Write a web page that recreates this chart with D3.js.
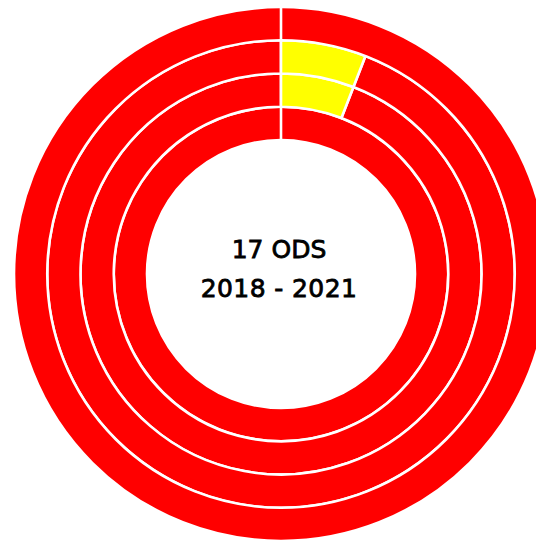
<!DOCTYPE html>
<html>
<head>
<meta charset="utf-8">
<script src="https://cdn.jsdelivr.net/npm/d3@7"></script>
<style>
  body { margin: 0; background: #fff; }
  svg { display: block; }
</style>
</head>
<body>
<svg width="536" height="542"></svg>
<script>
// one ring per year, inner ring = first year
const years = ["2018", "2019", "2020", "2021"];
// number of ODS in each status, per year
const statuses = ["amarillo", "rojo"];
const yellowCount = [0, 1, 1, 0];
const redCount = [17, 16, 16, 17];
const statusColors = ["#ffff00", "#ff0000"];

const titleLines = ["17 ODS", "2018 - 2021"];

var svg = d3.select("svg"),
    width = +svg.attr("width"),
    height = +svg.attr("height");

var cx = 281, cy = 274;
var innerR = 134, outerR = 267;

// rings
var ringScale = d3.scaleBand()
    .domain(years)
    .range([innerR, outerR])
    .padding(0);

var color = d3.scaleOrdinal()
    .domain(statuses)
    .range(statusColors);

var pie = d3.pie()
    .sort(null)
    .value(function(d){ return d.value; });

var g = svg.append("g")
    .attr("transform", "translate(" + cx + "," + cy + ")");

years.forEach(function(year, i){
    var slices = [
        {status: statuses[0], value: yellowCount[i]},
        {status: statuses[1], value: redCount[i]}
    ];
    var arc = d3.arc()
        .innerRadius(ringScale(year))
        .outerRadius(ringScale(year) + ringScale.bandwidth());

    // draw red first so the zero-width slice line stays on top
    g.append("g")
      .selectAll("path")
      .data(pie(slices).reverse())
      .enter()
      .append("path")
        .attr("d", arc)
        .style("fill", function(d){ return color(d.data.status); })
        .style("stroke", "#fff")
        .style("stroke-width", 2.6)
        .style("stroke-linejoin", "miter");
});

// centre title
g.selectAll("text.title")
    .data(titleLines)
    .enter()
    .append("text")
      .attr("class", "title")
      .attr("x", -2)
      .attr("y", function(d, i){ return i == 0 ? -16 : 23; })
      .attr("text-anchor", "middle")
      .style("font-family", "DejaVu Sans")
      .style("font-size", "25px")
      .style("letter-spacing", function(d, i){ return i == 0 ? "0px" : "0.4px"; })
      .style("fill", "#000")
      .style("stroke", "#000")
      .style("stroke-width", 0.8)
      .text(function(d){ return d; });
</script>
</body>
</html>
